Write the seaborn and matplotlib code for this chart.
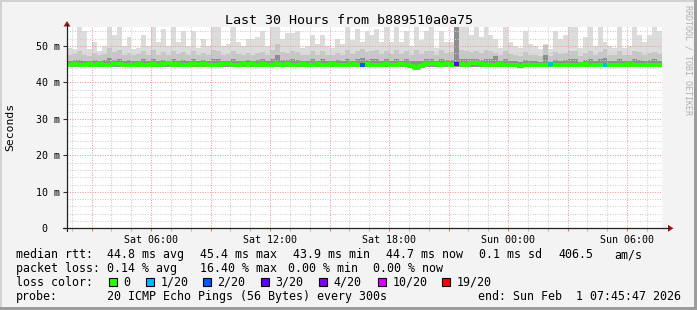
import numpy as np
import pandas as pd
import matplotlib
matplotlib.use("Agg")
import matplotlib.pyplot as plt
import seaborn as sns
from matplotlib.patches import Rectangle, Polygon
from matplotlib.lines import Line2D

# ---------------- data ----------------
START = "2026-01-31 01:45:47"
END = "2026-02-01 07:45:47"
BIN = "15min"

# median rtt (ms) per 15-minute bin
median_ms = [
    44.8, 44.9, 44.7, 44.8, 45.0, 44.8, 44.9, 44.7, 44.8, 44.9,
    45.1, 44.8, 44.7, 44.8, 44.9, 44.8, 44.7, 45.0, 44.8, 44.9,
    45.2, 44.8, 44.9, 44.7, 44.8, 45.1, 44.8, 44.9, 44.8, 44.7,
    44.8, 45.0, 44.9, 44.8, 44.7, 44.9, 44.8, 45.0, 44.8, 44.9,
    44.7, 44.8, 45.1, 44.8, 44.9, 44.8, 44.7, 44.9, 44.8, 44.8,
    44.9, 44.7, 44.8, 44.9, 44.8, 44.7, 44.8, 45.0, 44.8, 44.8,
    44.9, 44.8, 44.7, 44.8, 44.9, 44.8, 44.8, 44.9, 44.8, 44.6,
    44.0, 44.5, 44.9, 45.1, 44.9, 44.8, 44.9, 44.8, 45.0, 44.9,
    44.8, 45.2, 45.4, 44.9, 44.8, 44.7, 44.8, 44.9, 44.8, 44.7,
    44.8, 44.6, 44.8, 44.7, 44.8, 44.7, 44.8, 44.9, 44.7, 44.8,
    44.7, 44.8, 44.7, 44.8, 44.9, 44.7, 44.8, 44.7, 44.8, 44.7,
    44.8, 44.7, 44.8, 44.9, 44.7, 44.8, 44.7, 44.8, 44.7, 44.7,
]

# top of the light smoke (slowest ping) per bin, ms
smoke_max = [
    49.5, 49.0, 58.0, 54.0, 49.0, 51.0, 48.5, 50.0, 58.0, 53.0,
    58.0, 50.0, 52.5, 49.0, 49.5, 53.0, 50.0, 58.0, 51.0, 54.5,
    50.0, 58.0, 51.0, 54.0, 50.0, 54.0, 49.5, 52.0, 50.0, 58.0,
    58.0, 50.0, 50.5, 58.0, 51.0, 50.0, 52.0, 52.0, 52.5, 54.0,
    50.0, 58.0, 58.0, 52.0, 53.5, 53.5, 54.0, 49.5, 50.0, 53.0,
    50.5, 53.0, 50.0, 49.5, 52.0, 50.5, 58.0, 51.5, 54.5, 51.0,
    54.0, 53.0, 54.5, 51.0, 58.0, 51.0, 58.0, 51.0, 54.0, 50.0,
    58.0, 51.5, 54.0, 58.0, 49.5, 54.0, 51.0, 51.0, 58.0, 58.0,
    58.0, 53.0, 58.0, 52.5, 58.0, 53.0, 52.0, 49.5, 58.0, 51.0,
    50.0, 49.5, 54.0, 50.5, 50.0, 49.0, 50.5, 49.0, 54.0, 52.0,
    53.0, 58.0, 58.0, 49.5, 52.5, 58.0, 50.0, 58.0, 51.0, 50.0,
    49.5, 58.0, 49.5, 50.0, 58.0, 53.0, 51.0, 53.0, 58.0, 54.0,
]

# top of the medium smoke per bin, ms
smoke_mid = [
    47.5, 47.8, 48.5, 47.6, 47.2, 48.0, 47.5, 47.8, 49.5, 48.2,
    48.8, 47.6, 48.0, 47.4, 47.8, 48.5, 47.6, 48.8, 47.5, 48.2,
    47.6, 48.5, 47.8, 48.2, 47.5, 48.6, 47.6, 48.0, 47.4, 48.8,
    48.5, 47.6, 47.8, 48.6, 47.8, 47.5, 48.0, 47.6, 48.0, 48.4,
    47.6, 48.8, 50.5, 48.2, 48.0, 48.5, 48.2, 47.4, 47.6, 48.5,
    47.6, 48.5, 47.5, 47.4, 48.0, 47.6, 48.8, 47.8, 48.6, 49.0,
    48.2, 48.5, 48.8, 47.8, 48.5, 47.8, 48.8, 47.8, 48.5, 47.6,
    48.8, 47.8, 48.5, 48.6, 47.4, 48.8, 48.0, 48.2, 58.0, 48.8,
    48.6, 48.4, 48.6, 48.0, 48.8, 48.5, 48.0, 47.4, 48.6, 47.8,
    47.4, 47.3, 48.2, 47.6, 47.4, 47.2, 50.2, 47.3, 48.2, 47.8,
    48.0, 48.5, 48.6, 47.3, 48.0, 48.6, 47.6, 48.4, 49.0, 47.5,
    47.4, 48.5, 47.4, 47.6, 48.5, 48.2, 47.6, 48.0, 48.4, 47.8,
]

# top of the dark smoke per bin, ms
smoke_dark = [
    45.8, 46.0, 46.2, 45.8, 45.7, 46.1, 45.9, 46.0, 46.6, 46.2,
    46.5, 45.8, 46.1, 45.7, 45.9, 46.3, 45.8, 46.5, 45.8, 46.2,
    45.8, 46.3, 45.9, 46.2, 45.8, 46.5, 45.9, 46.1, 45.8, 46.5,
    46.3, 45.8, 45.9, 46.3, 45.9, 45.8, 46.1, 45.8, 46.1, 46.3,
    45.8, 46.5, 47.5, 46.2, 46.1, 46.3, 46.2, 45.7, 45.8, 46.3,
    45.8, 46.3, 45.8, 45.7, 46.1, 45.8, 46.5, 45.9, 46.3, 46.7,
    46.2, 46.3, 46.5, 45.9, 46.3, 45.9, 46.5, 45.9, 46.3, 45.8,
    45.8, 45.9, 46.3, 46.5, 45.7, 46.5, 46.1, 46.2, 58.0, 46.5,
    46.5, 46.3, 46.5, 46.1, 46.5, 46.3, 47.2, 45.7, 46.3, 45.9,
    45.7, 45.6, 46.2, 45.8, 45.7, 45.6, 47.5, 45.6, 46.2, 45.9,
    46.1, 46.3, 46.5, 45.6, 46.1, 46.3, 45.8, 46.3, 46.7, 45.8,
    45.7, 46.3, 45.7, 45.8, 46.3, 46.2, 45.8, 46.1, 46.3, 45.9,
]
SMOKE_FLOOR = 44.2

# bins with packet loss: bin index -> lost pings out of 20
loss_bins = [59, 78, 97, 108]
loss_counts = [2, 3, 1, 1]

loss_levels = ["0", "1/20", "2/20", "3/20", "4/20", "10/20", "19/20"]
loss_colors = ["#26ff00", "#00b8ff", "#0059ff", "#5e00ff", "#7e00ff", "#dd00ff", "#ff0000"]
loss_count_to_color = {0: "#26ff00", 1: "#00b8ff", 2: "#0059ff", 3: "#5e00ff",
                       4: "#7e00ff", 10: "#dd00ff", 19: "#ff0000"}

y_ticks = [0, 10, 20, 30, 40, 50]
y_tick_labels = ["0  ", "10 m", "20 m", "30 m", "40 m", "50 m"]
x_major_labels = ["", "Sat 06:00", "", "Sat 12:00", "", "Sat 18:00", "",
                  "Sun 00:00", "", "Sun 06:00"]

title = "Last 30 Hours from b889510a0a75"
legend_rows = [
    [("median rtt:", 16), ("44.8 ms avg", 107), ("45.4 ms max", 200),
     ("43.9 ms min", 293), ("44.7 ms now", 386), ("0.1 ms sd", 479),
     ("406.5", 558), ("am/s", 614)],
    [("packet loss:", 16), ("0.14 % avg", 107), ("16.40 % max", 200),
     ("0.00 % min", 288), ("0.00 % now", 373)],
    [("loss color:", 16)],
    [("probe:", 16), ("20 ICMP Echo Pings (56 Bytes) every 300s", 107),
     ("end: Sun Feb  1 07:45:47 2026", 478)],
]
loss_legend_x = [109, 146, 203, 261, 319, 378, 442]

# ---------------- figure ----------------
W, H = 697, 310
sns.set_theme(style="white")
plt.rcParams["font.family"] = ["DejaVu Sans Mono"]

fig = plt.figure(figsize=(W / 100, H / 100), dpi=100)
fig.patch.set_facecolor("#f3f3f3")


def fx(x):
    return x / W


def fy(y):
    return 1 - y / H


Y0, YT = 228.3, 27.0
ax = fig.add_axes([fx(67), fy(Y0), (662 - 67) / W, (Y0 - YT) / H])
ax.set_facecolor("white")

n = len(median_ms)
edges = pd.date_range(START, periods=n + 1, freq=BIN)


def ext(a):
    return np.append(np.asarray(a, float), a[-1])


ax.fill_between(edges, SMOKE_FLOOR, ext(smoke_max), step="post", color="#dcdcdc", lw=0, zorder=1)
ax.fill_between(edges, SMOKE_FLOOR, ext(smoke_mid), step="post", color="#c6c6c6", lw=0, zorder=1)
ax.fill_between(edges, SMOKE_FLOOR, ext(smoke_dark), step="post", color="#8e8e8e", lw=0, zorder=1)

df = pd.DataFrame({"t": edges, "rtt": ext(median_ms)})
sns.lineplot(data=df, x="t", y="rtt", ax=ax, color=loss_colors[0], lw=3,
             drawstyle="steps-post", zorder=3)
for b, c in zip(loss_bins, loss_counts):
    ax.hlines(median_ms[b], edges[b], edges[b + 1], color=loss_count_to_color[c],
              lw=3, zorder=4)

ax.set_xlim(pd.Timestamp(START), pd.Timestamp(END))
ax.set_ylim(0, (Y0 - YT) / 36.5 * 10)
ax.set_xlabel("")
ax.set_ylabel("")

major_x = pd.date_range("2026-01-31 03:00", "2026-02-01 06:00", freq="3h")
minor_x = pd.date_range("2026-01-31 02:00", "2026-02-01 07:00", freq="1h")
ax.set_xticks(major_x)
ax.set_xticklabels(x_major_labels)
ax.set_xticks(minor_x, minor=True)
ax.set_yticks(y_ticks)
ax.set_yticklabels(y_tick_labels)
ax.set_yticks(np.arange(0, 56, 2), minor=True)

for s in ax.spines.values():
    s.set_visible(False)

ax.set_axisbelow("line")
dot = (0, (1, 1.4))
ax.grid(which="minor", color="#cfcfcf", ls=dot, lw=0.75)
ax.grid(which="major", color="#f09a9a", ls=dot, lw=0.75)

ax.tick_params(axis="x", which="major", length=2, width=0.8, color="#f07070",
               pad=2.5, labelsize=7.2, labelcolor="#000000", bottom=True)
ax.tick_params(axis="x", which="minor", length=2, width=0.8, color="#bbbbbb", bottom=True)
ax.tick_params(axis="y", which="major", length=3, width=0.8, color="#333333",
               pad=2.2, labelsize=7.2, labelcolor="#000000", left=True)
ax.tick_params(axis="y", which="minor", length=0)

# axis lines with arrows
fig.add_artist(Line2D([fx(67), fx(67)], [fy(231), fy(24)], transform=fig.transFigure,
                      color="#222222", lw=0.9))
fig.add_artist(Line2D([fx(63), fx(669)], [fy(Y0), fy(Y0)], transform=fig.transFigure,
                      color="#222222", lw=0.9))
fig.add_artist(Polygon([(fx(67), fy(21)), (fx(63.5), fy(26.5)), (fx(70.5), fy(26.5))],
                       closed=True, transform=fig.transFigure, color="#a01818", lw=0))
fig.add_artist(Polygon([(fx(673.5), fy(Y0)), (fx(668), fy(Y0 - 3.5)), (fx(668), fy(Y0 + 3.5))],
                       closed=True, transform=fig.transFigure, color="#a01818", lw=0))

# texts
fig.text(fx(349), fy(24), title, ha="center", va="baseline", fontsize=9.6, color="#000000")
fig.text(fx(10), fy(127), "Seconds", ha="center", va="center", rotation=90,
         fontsize=8.2, color="#000000")
fig.text(fx(688), fy(60), "RRDTOOL / TOBI OETIKER", ha="center", va="center",
         rotation=270, fontsize=6, color="#b0b0b0")

baselines = [258.2, 272.0, 285.8, 299.6]
for row, yb in zip(legend_rows, baselines):
    for txt, x in row:
        fig.text(fx(x), fy(yb), txt, ha="left", va="baseline", fontsize=8.4, color="#000000")

for x, lab, col in zip(loss_legend_x, loss_levels, loss_colors):
    fig.add_artist(Rectangle((fx(x), fy(285.5)), 8 / W, 8 / H, transform=fig.transFigure,
                             facecolor=col, edgecolor="#000000", lw=0.8))
    fig.text(fx(x + 14.5), fy(285.8), lab, ha="left", va="baseline", fontsize=8.4,
             color="#000000")

# frame of the canvas
fig.add_artist(Rectangle((0, fy(2)), 1, 2 / H, transform=fig.transFigure,
                         facecolor="#d2d2d2", lw=0))
fig.add_artist(Rectangle((0, 0), 2 / W, 1, transform=fig.transFigure,
                         facecolor="#d2d2d2", lw=0))
fig.add_artist(Rectangle((fx(694), 0), 3 / W, 1, transform=fig.transFigure,
                         facecolor="#9c9c9c", lw=0))
fig.add_artist(Rectangle((0, 0), 1, 3 / H, transform=fig.transFigure,
                         facecolor="#9c9c9c", lw=0))

fig.savefig("out.png", dpi=100, facecolor=fig.get_facecolor())
